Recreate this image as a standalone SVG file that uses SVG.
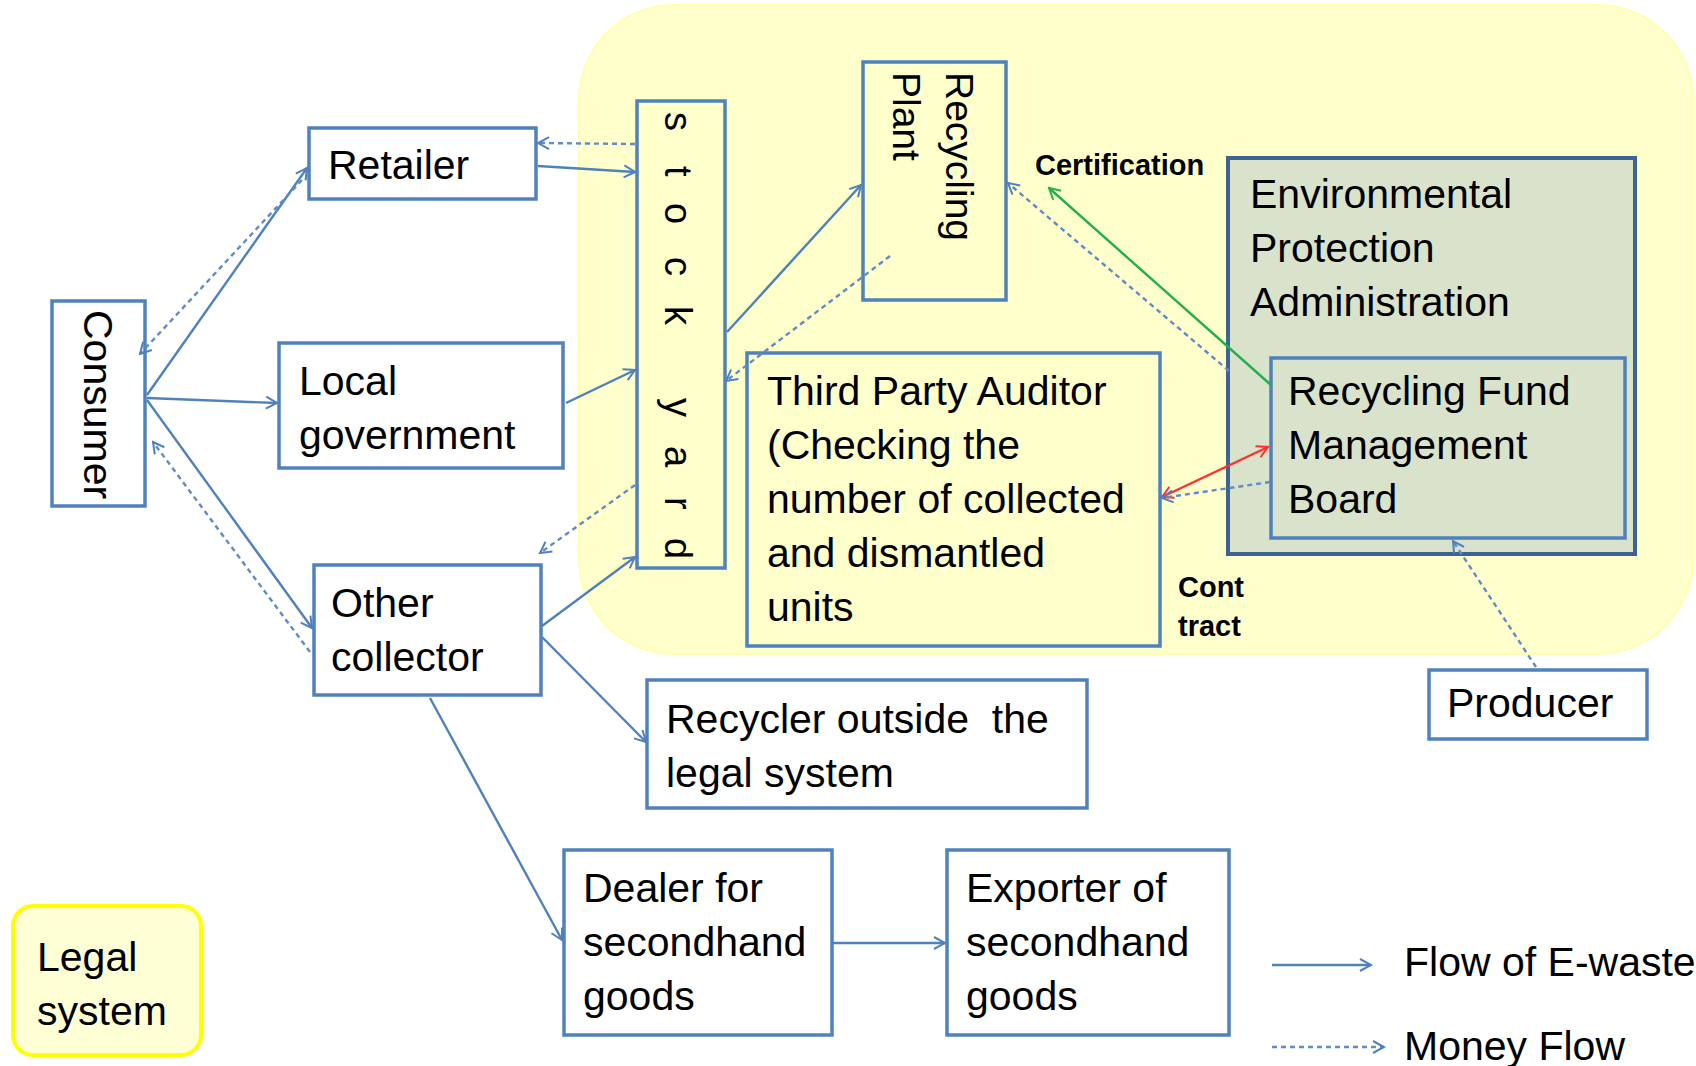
<svg xmlns="http://www.w3.org/2000/svg" width="1696" height="1066" viewBox="0 0 1696 1066">
<style>
.box{fill:#ffffff;stroke:#4f81bd;stroke-width:3.5}
.ybox{fill:none;stroke:#4f81bd;stroke-width:3.5}
.t{font-family:"Liberation Sans",Arial,sans-serif;font-size:41px;fill:#000}
.lbl{font-family:"Liberation Sans",Arial,sans-serif;font-size:29px;font-weight:bold;fill:#000}
.sl{fill:none;stroke:#4f81bd;stroke-width:2.4;marker-end:url(#ab)}
.dl{fill:none;stroke:#5f8cc8;stroke-width:2.4;stroke-dasharray:5 4;marker-end:url(#ab)}
</style>
<defs>
<marker id="ab" markerUnits="userSpaceOnUse" markerWidth="14" markerHeight="14" refX="12" refY="7" orient="auto">
<path d="M1,1 L12,7 L1,13" fill="none" stroke="#4f81bd" stroke-width="2"/>
</marker>
<marker id="ag" markerUnits="userSpaceOnUse" markerWidth="14" markerHeight="14" refX="12" refY="7" orient="auto">
<path d="M1,1 L12,7 L1,13" fill="none" stroke="#22b04c" stroke-width="2"/>
</marker>
<marker id="ar" markerUnits="userSpaceOnUse" markerWidth="14" markerHeight="14" refX="12" refY="7" orient="auto-start-reverse">
<path d="M1,1 L12,7 L1,13" fill="none" stroke="#ff3030" stroke-width="2"/>
</marker>
</defs>
<rect width="1696" height="1066" fill="#ffffff"/>
<g id="legal-region">
<rect x="579" y="5" width="1114" height="649" rx="95" ry="95" fill="#ffffcc" stroke="#ffffb0" stroke-width="2"/>
</g>
<g id="consumer">
<rect class="box" x="52" y="301" width="93" height="205"/>
<text class="t" transform="translate(84,310) rotate(90)">Consumer</text>
</g>
<g id="retailer">
<rect class="box" x="309" y="128" width="227" height="71"/>
<text class="t" x="328" y="179">Retailer</text>
</g>
<g id="local-government">
<rect class="box" x="279" y="343" width="284" height="125"/>
<text class="t" x="299" y="395">Local</text>
<text class="t" x="299" y="449">government</text>
</g>
<g id="other-collector">
<rect class="box" x="314" y="565" width="227" height="130"/>
<text class="t" x="331" y="617">Other</text>
<text class="t" x="331" y="671">collector</text>
</g>
<g id="stock-yard">
<rect class="ybox" x="637" y="101" width="88" height="467"/>
<text class="t" style="font-size:38px" transform="translate(665,0) rotate(90)" x="112 166 203 257 306 398 446 497 538">stockyard</text>
</g>
<g id="recycling-plant">
<rect class="ybox" x="863" y="62" width="143" height="238"/>
<text class="t" style="font-size:39px" transform="translate(946,72) rotate(90)">Recycling</text>
<text class="t" style="font-size:39px" transform="translate(893,72) rotate(90)">Plant</text>
</g>
<g id="third-party-auditor">
<rect class="ybox" x="747" y="353" width="413" height="293"/>
<text class="t" x="767" y="405">Third Party Auditor</text>
<text class="t" x="767" y="459">(Checking the</text>
<text class="t" x="767" y="513">number of collected</text>
<text class="t" x="767" y="567">and dismantled</text>
<text class="t" x="767" y="621">units</text>
</g>
<g id="epa">
<rect x="1228" y="158" width="407" height="396" fill="#d9e2cb" stroke="#3d6393" stroke-width="4"/>
<text class="t" x="1250" y="208">Environmental</text>
<text class="t" x="1250" y="262">Protection</text>
<text class="t" x="1250" y="316">Administration</text>
</g>
<g id="recycling-fund">
<rect x="1271" y="358" width="354" height="180" fill="none" stroke="#4f81bd" stroke-width="3.5"/>
<text class="t" x="1288" y="405">Recycling Fund</text>
<text class="t" x="1288" y="459">Management</text>
<text class="t" x="1288" y="513">Board</text>
</g>
<g id="producer">
<rect class="box" x="1429" y="670" width="218" height="69"/>
<text class="t" x="1447" y="717">Producer</text>
</g>
<g id="recycler-outside">
<rect class="box" x="647" y="680" width="440" height="128"/>
<text class="t" x="666" y="733" xml:space="preserve">Recycler outside  the</text>
<text class="t" x="666" y="787">legal system</text>
</g>
<g id="dealer">
<rect class="box" x="564" y="850" width="268" height="185"/>
<text class="t" x="583" y="902">Dealer for</text>
<text class="t" x="583" y="956">secondhand</text>
<text class="t" x="583" y="1010">goods</text>
</g>
<g id="exporter">
<rect class="box" x="947" y="850" width="282" height="185"/>
<text class="t" x="966" y="902">Exporter of</text>
<text class="t" x="966" y="956">secondhand</text>
<text class="t" x="966" y="1010">goods</text>
</g>
<g id="legal-system">
<rect x="13" y="906" width="188" height="149" rx="20" ry="20" fill="#ffffd6" stroke="#ffff00" stroke-width="4"/>
<text class="t" x="37" y="971">Legal</text>
<text class="t" x="37" y="1025">system</text>
</g>
<g id="labels">
<text class="lbl" x="1035" y="175">Certification</text>
<text class="lbl" x="1178" y="597">Cont</text>
<text class="lbl" x="1178" y="636">tract</text>
</g>
<g id="connectors">
<line class="sl" x1="147" y1="395" x2="307" y2="168"/>
<line class="dl" x1="302" y1="180" x2="140" y2="354"/>
<line class="sl" x1="147" y1="398" x2="277" y2="403"/>
<line class="sl" x1="147" y1="400" x2="312" y2="628"/>
<line class="dl" x1="310" y1="652" x2="153" y2="442"/>
<line class="sl" x1="538" y1="166" x2="635" y2="172"/>
<line class="dl" x1="635" y1="144" x2="538" y2="143"/>
<line class="sl" x1="566" y1="403" x2="635" y2="370"/>
<line class="dl" x1="635" y1="485" x2="540" y2="553"/>
<line class="sl" x1="542" y1="626" x2="635" y2="557"/>
<line class="sl" x1="542" y1="637" x2="646" y2="742"/>
<line class="sl" x1="430" y1="698" x2="562" y2="940"/>
<line class="sl" x1="833" y1="943" x2="945" y2="943"/>
<line class="sl" x1="727" y1="332" x2="861" y2="185"/>
<line class="dl" x1="890" y1="256" x2="726" y2="381"/>
<line class="dl" x1="1229" y1="371" x2="1008" y2="183"/>
<line x1="1271" y1="385" x2="1049" y2="188" fill="none" stroke="#22b04c" stroke-width="2.4" marker-end="url(#ag)"/>
<line x1="1162" y1="497" x2="1268" y2="447" fill="none" stroke="#ff3030" stroke-width="2.4" marker-start="url(#ar)" marker-end="url(#ar)"/>
<line class="dl" x1="1270" y1="482" x2="1162" y2="498"/>
<line class="dl" x1="1536" y1="667" x2="1453" y2="541"/>
</g>
<g id="legend">
<line class="sl" x1="1272" y1="965" x2="1371" y2="965"/>
<line class="dl" x1="1272" y1="1047" x2="1384" y2="1047"/>
<text class="t" x="1404" y="976">Flow of E-waste</text>
<text class="t" x="1404" y="1060">Money Flow</text>
</g>
</svg>
